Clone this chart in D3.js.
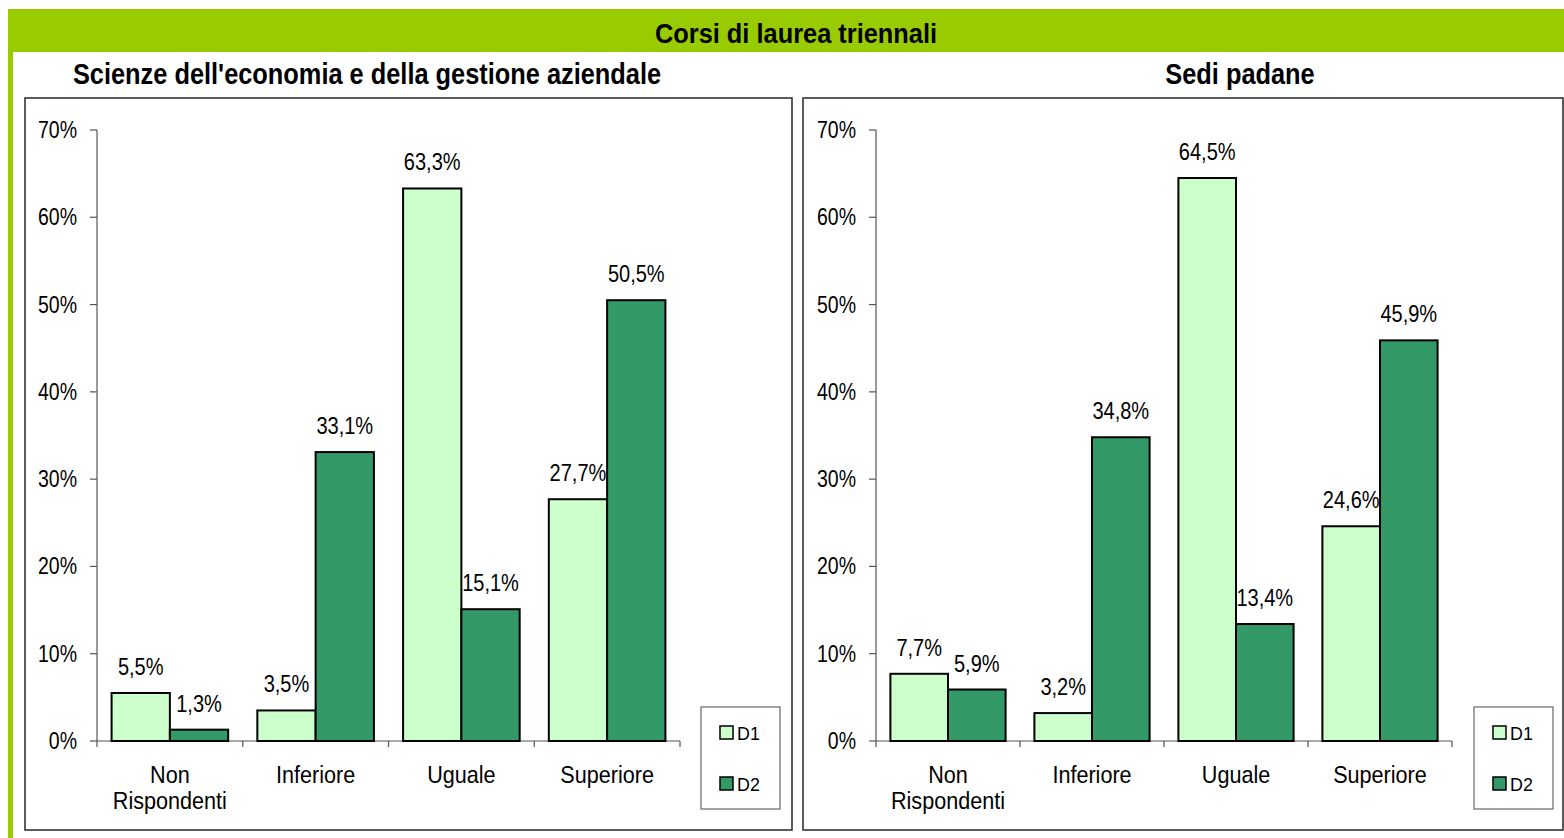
<!DOCTYPE html>
<html><head><meta charset="utf-8">
<script src="https://cdn.jsdelivr.net/npm/d3@7"></script>
<style>body{margin:0;background:#fff}svg{display:block}</style>
</head><body>
<svg id="c" width="1564" height="838"></svg>
<script>
const mainTitle = "Corsi di laurea triennali";
const panelTitles = ["Scienze dell'economia e della gestione aziendale", "Sedi padane"];
const categories = ["Non Rispondenti", "Inferiore", "Uguale", "Superiore"];
const seriesNames = ["D1", "D2"];
const leftD1 = [5.5, 3.5, 63.3, 27.7];
const leftD2 = [1.3, 33.1, 15.1, 50.5];
const rightD1 = [7.7, 3.2, 64.5, 24.6];
const rightD2 = [5.9, 34.8, 13.4, 45.9];
const yTicks = [0, 10, 20, 30, 40, 50, 60, 70];
const seriesColors = ["#CCFFCC", "#339966"];

const svg = d3.select("#c");
const FONT = "'Liberation Sans', Arial, sans-serif";
const SX = 0.9;

function txt(g, x, y, s, opts) {
  const t = g.append("text")
    .attr("transform", `translate(${x},${y}) scale(${opts.sx || SX},1)`)
    .attr("font-family", FONT)
    .attr("font-size", opts.size)
    .attr("font-weight", opts.bold ? "bold" : "normal")
    .attr("text-anchor", opts.anchor || "middle")
    .attr("fill", "#000")
    .text(s);
  return t;
}

// header band
svg.append("rect").attr("x", 8).attr("y", 9).attr("width", 1556).attr("height", 43).attr("fill", "#99CC00");
svg.append("rect").attr("x", 8).attr("y", 52).attr("width", 5).attr("height", 786).attr("fill", "#99CC00");
txt(svg, 796, 43, mainTitle, {size: 28, bold: true, sx: 0.907});

function panel(cfg) {
  const g = svg.append("g");
  g.append("rect").attr("x", cfg.box[0]).attr("y", cfg.box[1]).attr("width", cfg.box[2]).attr("height", cfg.box[3])
    .attr("fill", "#fff").attr("stroke", "#333").attr("stroke-width", 1.6);
  txt(g, cfg.titleX, 84, cfg.title, {size: 29, bold: true, sx: 0.875});

  const y = d3.scaleLinear().domain([0, 70]).range([741, 130]);
  const x = d3.scaleBand().domain(categories).range([cfg.x0, cfg.x1]).paddingInner(0.2).paddingOuter(0.1);
  const xs = d3.scaleBand().domain(seriesNames).range([0, x.bandwidth()]);
  const step = x.step();

  // axes
  g.append("line").attr("x1", cfg.x0).attr("x2", cfg.x0).attr("y1", y(70)).attr("y2", y(0) + 6).attr("stroke", "#555").attr("stroke-width", 1.2);
  g.append("line").attr("x1", cfg.x0).attr("x2", cfg.x1).attr("y1", y(0)).attr("y2", y(0)).attr("stroke", "#555").attr("stroke-width", 1.2);
  yTicks.forEach(v => {
    g.append("line").attr("x1", cfg.x0 - 7).attr("x2", cfg.x0).attr("y1", y(v)).attr("y2", y(v)).attr("stroke", "#555").attr("stroke-width", 1.2);
    txt(g, cfg.x0 - 20, y(v) + 8, v + "%", {size: 23.5, anchor: "end", sx: 0.83});
  });
  categories.forEach((c, i) => {
    const bx = cfg.x0 + (i + 1) * step;
    g.append("line").attr("x1", bx).attr("x2", bx).attr("y1", y(0)).attr("y2", y(0) + 6).attr("stroke", "#555").attr("stroke-width", 1.2);
    const cx = x(c) + x.bandwidth() / 2;
    c.split(" ").forEach((w, j) => txt(g, cx, 783 + j * 26, w, {size: 24, sx: 0.9}));
  });

  const data = [];
  categories.forEach((c, i) => {
    data.push({c, s: "D1", v: cfg.d1[i], col: seriesColors[0]});
    data.push({c, s: "D2", v: cfg.d2[i], col: seriesColors[1]});
  });
  g.selectAll("rect.bar").data(data).join("rect").attr("class", "bar")
    .attr("x", d => x(d.c) + xs(d.s)).attr("width", xs.bandwidth())
    .attr("y", d => y(d.v)).attr("height", d => y(0) - y(d.v))
    .attr("fill", d => d.col).attr("stroke", "#000").attr("stroke-width", 2);
  data.forEach(d => {
    txt(g, x(d.c) + xs(d.s) + xs.bandwidth() / 2, y(d.v) - 18, d.v.toFixed(1).replace(".", ",") + "%", {size: 23, sx: 0.87});
  });

  // legend
  const lg = g.append("g");
  lg.append("rect").attr("x", cfg.leg).attr("y", 707).attr("width", 79).attr("height", 102)
    .attr("fill", "#fff").attr("stroke", "#666").attr("stroke-width", 1.2);
  seriesNames.forEach((s, i) => {
    const yy = 726 + i * 51;
    lg.append("rect").attr("x", cfg.leg + 19).attr("y", yy).attr("width", 13).attr("height", 13)
      .attr("fill", seriesColors[i]).attr("stroke", "#000").attr("stroke-width", 1.5);
    txt(lg, cfg.leg + 36, yy + 14, s, {size: 19, anchor: "start", sx: 0.94});
  });
}

panel({box: [25, 98, 767, 732], title: panelTitles[0], titleX: 367, x0: 97, x1: 680, d1: leftD1, d2: leftD2, leg: 701});
panel({box: [803, 98, 760, 732], title: panelTitles[1], titleX: 1240, x0: 876, x1: 1452, d1: rightD1, d2: rightD2, leg: 1474});
</script>
</body></html>
